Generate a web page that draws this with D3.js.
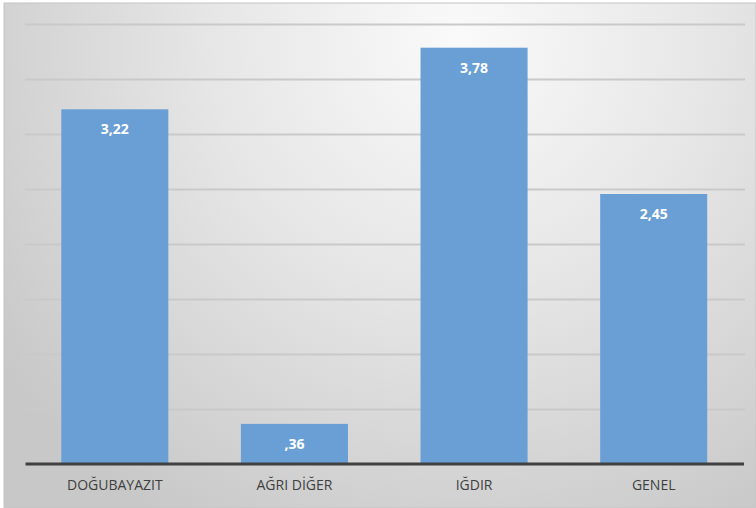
<!DOCTYPE html>
<html><head><meta charset="utf-8">
<script src="https://cdn.jsdelivr.net/npm/d3@7"></script>
<style>body{margin:0;background:#fff}svg{display:block}</style>
</head><body>
<script>
const categories = ["DOĞUBAYAZIT", "AĞRI DİĞER", "IĞDIR", "GENEL"];
const values = [3.22, 0.36, 3.78, 2.45];
const valueLabels = ["3,22", ",36", "3,78", "2,45"];
const gridTicks = [0.5, 1, 1.5, 2, 2.5, 3, 3.5, 4];

const W = 756, H = 508;
const svg = d3.select("body").append("svg").attr("width", W).attr("height", H);
const defs = svg.append("defs");
const rg = defs.append("radialGradient").attr("id", "bg")
  .attr("gradientUnits", "userSpaceOnUse")
  .attr("cx", 460).attr("cy", 40).attr("r", 560);
rg.append("stop").attr("offset", "0").attr("stop-color", "#fafafa");
rg.append("stop").attr("offset", "0.45").attr("stop-color", "#e6e6e6");
rg.append("stop").attr("offset", "1").attr("stop-color", "#c8c8c8");

svg.append("rect").attr("x", 4).attr("y", 3).attr("width", W - 4).attr("height", H - 3)
  .attr("fill", "url(#bg)").attr("stroke", "#c4c4c4").attr("stroke-width", 1);

const x = d3.scaleBand().domain(categories).range([25, 743.5]).paddingInner(0.404).paddingOuter(0.202);
const y = d3.scaleLinear().domain([0, 4]).range([463.5, 23.5]);

svg.append("g").selectAll("line").data(gridTicks).join("line")
  .attr("x1", 25).attr("x2", 745)
  .attr("y1", d => Math.round(y(d)) + 0.5).attr("y2", d => Math.round(y(d)) + 0.5)
  .attr("stroke", "#c9c9c9").attr("stroke-width", 2);

svg.append("g").selectAll("rect").data(values).join("rect")
  .attr("x", (d, i) => x(categories[i]))
  .attr("width", x.bandwidth())
  .attr("y", d => y(d))
  .attr("height", d => y(0) - y(d))
  .attr("fill", "#6a9fd5");

svg.append("g").selectAll("text").data(values).join("text")
  .attr("x", (d, i) => x(categories[i]) + x.bandwidth() / 2)
  .attr("y", d => y(d) + 25)
  .attr("text-anchor", "middle")
  .attr("font-family", "'Open Sans', sans-serif")
  .attr("font-weight", "bold").attr("font-size", 14)
  .attr("fill", "#ffffff")
  .text((d, i) => valueLabels[i]);

const xAxis = d3.axisBottom(x).tickSize(0).tickPadding(17);
const ax = svg.append("g").attr("transform", `translate(0,${y(0)})`).call(xAxis);
ax.select(".domain").attr("stroke", "#404040").attr("stroke-width", 3);
ax.selectAll("text").attr("font-family", "'Open Sans', sans-serif")
  .attr("font-size", 14).attr("fill", "#404040");
</script>
</body></html>
